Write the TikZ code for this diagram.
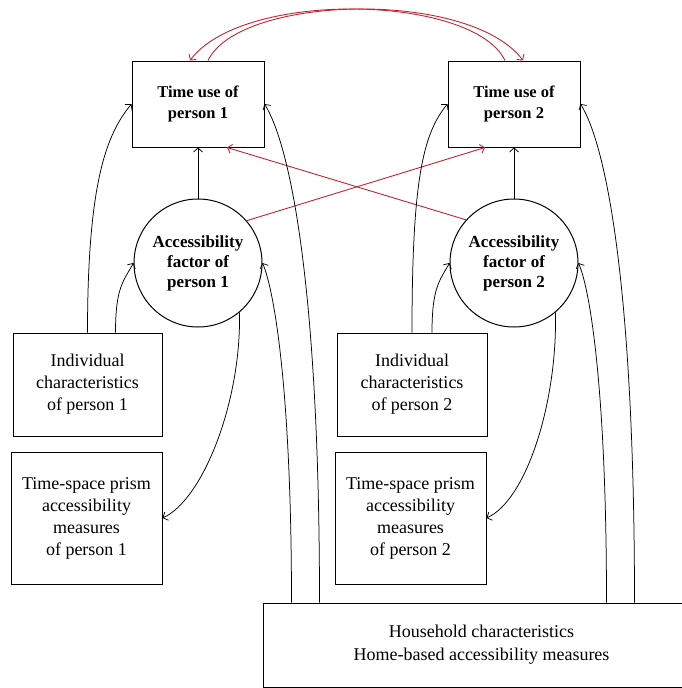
\documentclass[tikz,border=0pt]{standalone}
\usepackage{fontspec}
\setmainfont{Liberation Serif}
\usetikzlibrary{arrows.meta}
\definecolor{redline}{RGB}{200,35,45}
\begin{document}
\begin{tikzpicture}[x=1pt,y=-1pt,
  box/.style={draw,line width=1pt,rectangle,inner sep=0pt,align=center,
    font=\fontsize{18}{22}\selectfont},
  boldbox/.style={draw,line width=1pt,rectangle,inner sep=0pt,align=center,
    font=\fontsize{16.5}{21}\selectfont\bfseries,minimum width=132pt,minimum height=86pt},
  factor/.style={draw,line width=1pt,circle,inner sep=0pt,align=center,
    font=\fontsize{17}{20}\selectfont\bfseries,minimum size=128pt},
  conn/.style={line width=0.75pt,-{Straight Barb[length=4pt,width=9pt]}},
  redconn/.style={conn,draw=redline,line width=0.9pt}]
\useasboundingbox (0,0) rectangle (682,688);

\node[boldbox] (t1) at (198,104) {Time use of\\person 1};
\node[boldbox] (t2) at (514,104) {Time use of\\person 2};
\node[factor] (c1) at (198,263) {Accessibility\\factor of\\person 1};
\node[factor] (c2) at (514,263) {Accessibility\\factor of\\person 2};
\node[box,minimum width=149pt,minimum height=103pt] (i1) at (87.5,384.5) {Individual\\characteristics\\of person 1};
\node[box,minimum width=151pt,minimum height=132pt] (p1) at (86.5,518) {Time-space prism\\accessibility\\measures\\of person 1};
\node[box,minimum width=150pt,minimum height=103pt] (i2) at (412,384.5) {Individual\\characteristics\\of person 2};
\node[box,minimum width=151pt,minimum height=132pt] (p2) at (410.5,518) {Time-space prism\\accessibility\\measures\\of person 2};
\node[box,minimum width=437pt,minimum height=84pt,font=\fontsize{18}{23}\selectfont] (hh) at (481.5,645) {Household characteristics\\Home-based accessibility measures};

% factor -> time use
\draw[conn] (c1.north) -- (t1.south);
\draw[conn] (c2.north) -- (t2.south);

% red cross links
\draw[redconn] (c1.41) -- ([xshift=-29pt]t2.south);
\draw[redconn] (c2.138) -- ([xshift=29pt]t1.south);

% red top curves
\draw[redconn] ([xshift=10pt]t1.north) .. controls +(32,-66) and +(-53,-71) .. ([xshift=9pt]t2.north);
\draw[redconn] ([xshift=-9pt]t2.north) .. controls +(-32,-66) and +(53,-71) .. ([xshift=-8pt]t1.north);

% person 1 side
\draw[conn] (i1.north) .. controls +(0,-150) and +(-25,30) .. (t1.west);
\draw[conn] ([xshift=28pt]i1.north) .. controls +(0,-45) and +(-10,18) .. (c1.west);
\draw[conn] (c1.-50) .. controls +(2,90) and +(40,-18) .. (p1.east);
\draw[conn] ([xshift=29pt]hh.north west) .. controls +(0,-210) and +(12,28) .. (c1.east);
\draw[conn] ([xshift=57pt]hh.north west) .. controls +(0,-320) and +(25,40) .. (t1.east);

% person 2 side
\draw[conn] (i2.north) .. controls +(0,-150) and +(-25,30) .. (t2.west);
\draw[conn] ([xshift=20pt]i2.north) .. controls +(0,-45) and +(-10,18) .. (c2.west);
\draw[conn] (c2.-50) .. controls +(2,90) and +(40,-18) .. (p2.east);
\draw[conn] ([xshift=344pt]hh.north west) .. controls +(0,-210) and +(12,28) .. (c2.east);
\draw[conn] ([xshift=372pt]hh.north west) .. controls +(0,-320) and +(25,40) .. (t2.east);
\end{tikzpicture}
\end{document}
